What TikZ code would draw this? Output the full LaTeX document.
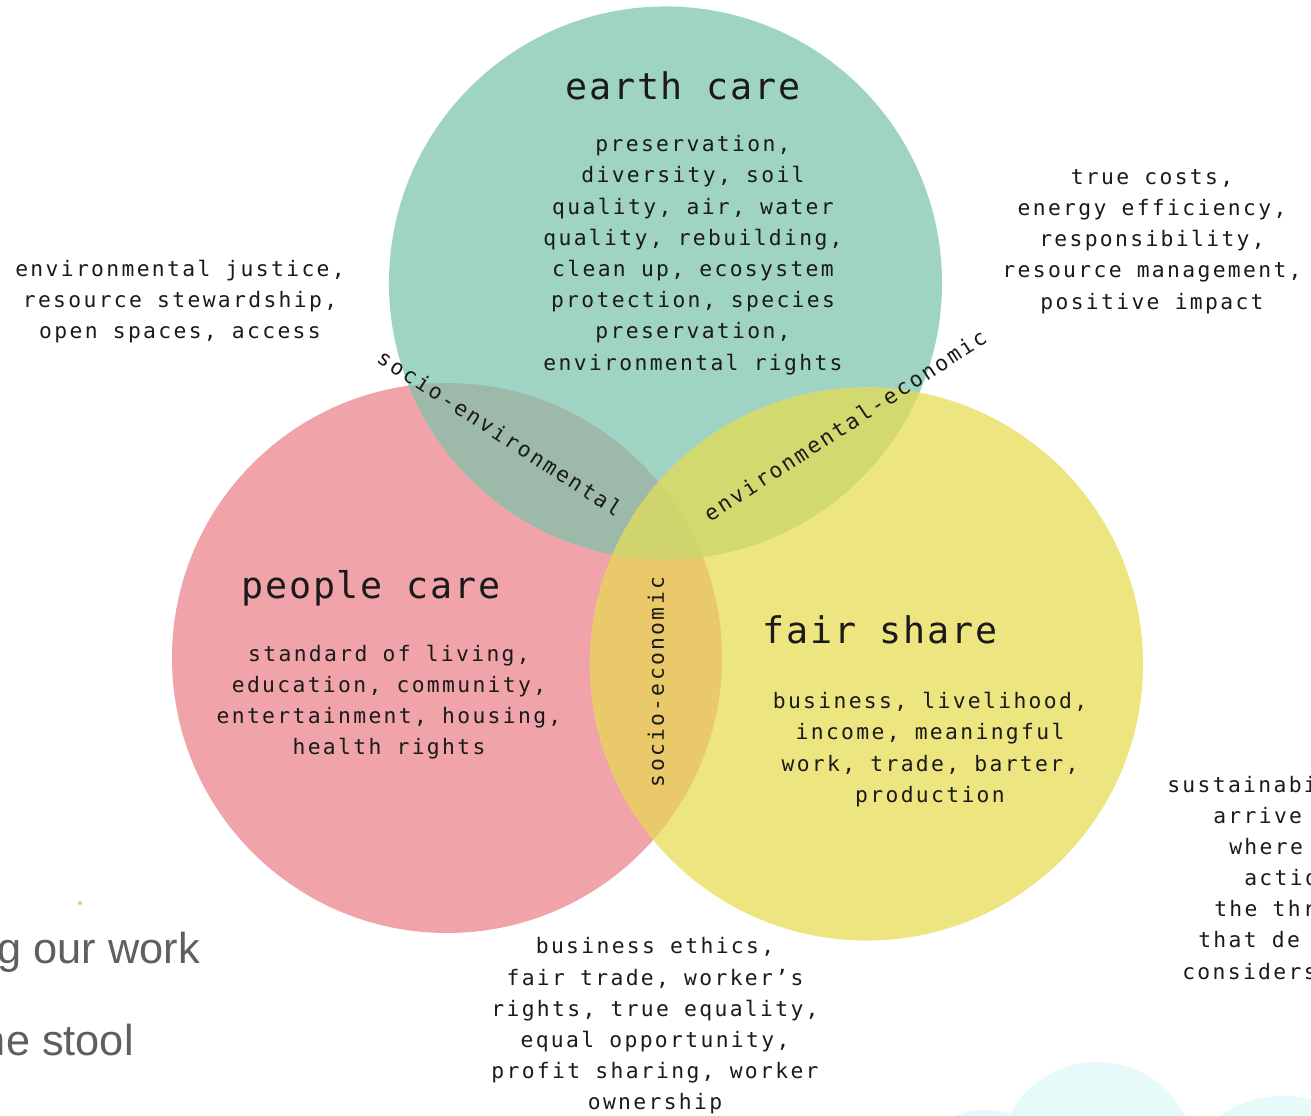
\documentclass[tikz,border=0pt]{standalone}
\usepackage{fontspec}
\newfontfamily\monobody[LetterSpace=11]{DejaVu Sans Mono}
\newfontfamily\monotitle[LetterSpace=5]{DejaVu Sans Mono}
\newfontfamily\uisans{Liberation Sans}
\definecolor{earthc}{HTML}{9FD3C4}
\definecolor{peoplec}{HTML}{F0A4AA}
\definecolor{fairc}{HTML}{EDE57F}
\definecolor{epc}{HTML}{9DB9A9}
\definecolor{pfc}{HTML}{E9C96A}
\definecolor{efc}{HTML}{D2D96F}
\definecolor{epfc}{HTML}{D0D46D}
\definecolor{inkc}{HTML}{1A1A1A}
\definecolor{greyc}{HTML}{5F5F5F}
\definecolor{paleblue}{HTML}{E6FAFA}
\definecolor{dotc}{HTML}{F5C070}
\tikzset{
  bodytext/.style={inner sep=0pt, align=center, text=inkc, font=\monobody\fontsize{16}{23.4}\selectfont},
  titletext/.style={inner sep=0pt, anchor=base, text=inkc, font=\monotitle\fontsize{27.5}{33}\selectfont},
  sidetext/.style={inner sep=0pt, anchor=base west, text=inkc, font=\monobody\fontsize{16}{23.4}\selectfont},
  uitext/.style={inner sep=0pt, anchor=base east, text=greyc, font=\uisans\fontsize{32.5}{36}\selectfont}
}
\begin{document}
\begin{tikzpicture}[x=0.75pt,y=-0.75pt]
\useasboundingbox (0,0) rectangle (1311,1116);
\clip (0,0) rectangle (1311,1116);
% centres
\coordinate (E) at (665.5,283);
\coordinate (P) at (447,658);
\coordinate (F) at (866.5,664);
% pale background circles
\fill[paleblue] (985,1190) circle (60pt);
\fill[paleblue] (1097,1161) circle (74.25pt);
\fill[paleblue] (1283,1205) circle (81.75pt);
\fill[dotc] (80,903) circle (1.5pt);
% main circles
\fill[peoplec] (P) circle (206.25pt);
\fill[earthc] (E) circle (207.4pt);
\fill[fairc] (F) circle (207.4pt);
% overlaps
\begin{scope}
  \clip (E) circle (207.4pt);
  \fill[epc] (P) circle (206.25pt);
  \fill[efc] (F) circle (207.4pt);
\end{scope}
\begin{scope}
  \clip (P) circle (206.25pt);
  \fill[pfc] (F) circle (207.4pt);
  \clip (F) circle (207.4pt);
  \fill[epfc] (E) circle (207.4pt);
\end{scope}
% titles
\node[titletext] (earthtitle) at (683,100) {earth care};
\node[titletext] (peopletitle) at (371,598) {people care};
\node[titletext] (fairtitle) at (880,643) {fair share};
% bodies
\node[bodytext] (earthbody) at (693,255) {preservation,\\diversity, soil\\quality, air, water\\quality, rebuilding,\\clean up, ecosystem\\protection, species\\preservation,\\environmental rights};
\node[bodytext] (peoplebody) at (389,702) {standard of living,\\education, community,\\entertainment, housing,\\health rights};
\node[bodytext] (fairbody) at (930,749.5) {business, livelihood,\\income, meaningful\\work, trade, barter,\\production};
\node[bodytext] (leftout) at (180,301.5) {environmental justice,\\resource stewardship,\\open spaces, access};
\node[bodytext] (rightout) at (1152,241.5) {true costs,\\energy efficiency,\\responsibility,\\resource management,\\positive impact};
\node[bodytext] (bottomout) at (655,1026) {business ethics,\\fair trade, worker’s\\rights, true equality,\\equal opportunity,\\profit sharing, worker\\ownership};
% overlap labels
\node[bodytext, rotate=-33] (socenv) at (500,433) {socio-environmental};
\node[bodytext, rotate=33] (envecon) at (845,425) {environmental-economic};
\node[bodytext, rotate=90] (socecon) at (656,682) {socio-economic};
% right clipped text
\node[sidetext] (r1) at (1167,792) {sustainabi};
\node[sidetext] (r2) at (1213,823) {arrive};
\node[sidetext] (r3) at (1229,854) {where};
\node[sidetext] (r4) at (1244,885) {actio};
\node[sidetext] (r5) at (1214,916) {the thr};
\node[sidetext] (r6) at (1198,947) {that  de};
\node[sidetext] (r7) at (1182,979) {considers};
% left clipped text
\node[uitext] (l1) at (200,963) {g our work};
\node[uitext] (l2) at (134,1055) {he stool};
\end{tikzpicture}
\end{document}
